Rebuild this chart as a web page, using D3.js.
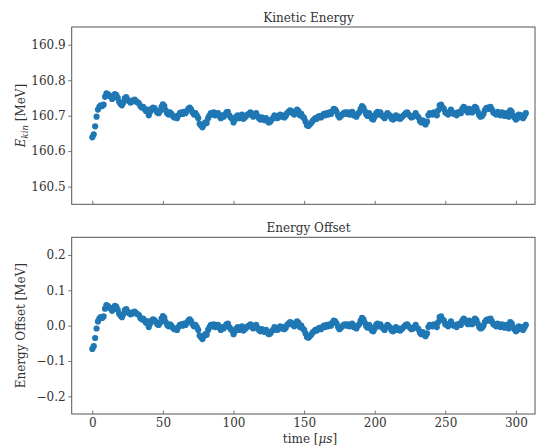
<!DOCTYPE html>
<html><head><meta charset="utf-8">
<script src="https://cdn.jsdelivr.net/npm/d3@7"></script>
<style>body{margin:0;background:#fff}svg{display:block}</style>
</head><body><svg id="c" width="537" height="447"></svg>
<script>
const timeUs = [0,1,2,3,4,5,6,7,8,9,10,11,12,13,14,15,16,17,18,19,20,21,22,23,24,25,26,27,28,29,30,31,32,33,34,35,36,37,38,39,40,41,42,43,44,45,46,47,48,49,50,51,52,53,54,55,56,57,58,59,60,61,62,63,64,65,66,67,68,69,70,71,72,73,74,75,76,77,78,79,80,81,82,83,84,85,86,87,88,89,90,91,92,93,94,95,96,97,98,99,100,101,102,103,104,105,106,107,108,109,110,111,112,113,114,115,116,117,118,119,120,121,122,123,124,125,126,127,128,129,130,131,132,133,134,135,136,137,138,139,140,141,142,143,144,145,146,147,148,149,150,151,152,153,154,155,156,157,158,159,160,161,162,163,164,165,166,167,168,169,170,171,172,173,174,175,176,177,178,179,180,181,182,183,184,185,186,187,188,189,190,191,192,193,194,195,196,197,198,199,200,201,202,203,204,205,206,207,208,209,210,211,212,213,214,215,216,217,218,219,220,221,222,223,224,225,226,227,228,229,230,231,232,233,234,235,236,237,238,239,240,241,242,243,244,245,246,247,248,249,250,251,252,253,254,255,256,257,258,259,260,261,262,263,264,265,266,267,268,269,270,271,272,273,274,275,276,277,278,279,280,281,282,283,284,285,286,287,288,289,290,291,292,293,294,295,296,297,298,299,300,301,302,303,304,305,306,307];

const kineticEnergy = [
160.639,160.647,160.670,160.697,160.717,160.725,160.729,160.727,160.731,160.753,
160.763,160.760,160.757,160.753,160.747,160.755,160.761,160.758,160.750,160.739,
160.733,160.729,160.737,160.749,160.752,160.745,160.741,160.737,160.739,160.743,
160.745,160.740,160.738,160.735,160.727,160.723,160.725,160.719,160.713,160.717,
160.701,160.711,160.719,160.723,160.721,160.715,160.709,160.707,160.713,160.725,
160.732,160.727,160.715,160.707,160.703,160.709,160.705,160.699,160.695,160.697,
160.693,160.701,160.707,160.709,160.705,160.711,160.707,160.713,160.719,160.723,
160.717,160.709,160.703,160.707,160.701,160.693,160.677,160.672,160.667,160.675,
160.681,160.679,160.693,160.701,160.707,160.703,160.709,160.701,160.705,160.707,
160.699,160.693,160.701,160.697,160.703,160.709,160.711,160.701,160.695,160.691,
160.681,160.689,160.697,160.701,160.693,160.699,160.703,160.691,160.695,160.699,
160.703,160.705,160.709,160.701,160.697,160.703,160.707,160.699,160.693,160.689,
160.695,160.691,160.687,160.693,160.685,160.681,160.683,160.689,160.693,160.701,
160.697,160.693,160.699,160.703,160.697,160.701,160.695,160.699,160.707,160.711,
160.715,160.713,160.707,160.703,160.709,160.717,160.713,160.701,160.705,160.697,
160.693,160.683,160.673,160.671,160.675,160.679,160.685,160.689,160.693,160.691,
160.697,160.699,160.695,160.701,160.705,160.701,160.707,160.703,160.709,160.705,
160.713,160.719,160.717,160.711,160.701,160.695,160.699,160.703,160.707,160.709,
160.705,160.709,160.703,160.707,160.711,160.701,160.703,160.697,160.705,160.709,
160.719,160.727,160.723,160.713,160.703,160.699,160.707,160.701,160.691,160.689,
160.697,160.707,160.711,160.703,160.709,160.701,160.697,160.693,160.701,160.707,
160.703,160.699,160.691,160.689,160.695,160.701,160.693,160.697,160.691,160.695,
160.699,160.703,160.707,160.709,160.703,160.699,160.695,160.697,160.701,160.707,
160.699,160.695,160.685,160.681,160.687,160.679,160.675,160.683,160.701,160.707,
160.705,160.703,160.709,160.707,160.701,160.715,160.729,160.731,160.723,160.719,
160.709,160.707,160.703,160.711,160.717,160.709,160.705,160.707,160.701,160.709,
160.711,160.707,160.719,160.725,160.721,160.713,160.709,160.719,160.715,160.709,
160.717,160.725,160.721,160.711,160.701,160.697,160.699,160.705,160.715,160.721,
160.723,160.719,160.725,160.717,160.709,160.707,160.703,160.711,160.707,160.701,
160.709,160.705,160.699,160.707,160.703,160.697,160.715,160.711,160.701,160.695,
160.689,160.693,160.703,160.697,160.701,160.693,160.699,160.707];

const energyOffset = [
-0.066,-0.058,-0.035,-0.008,0.012,0.020,0.024,0.022,0.026,0.048,
0.058,0.055,0.052,0.048,0.042,0.050,0.056,0.053,0.045,0.034,
0.028,0.024,0.032,0.044,0.047,0.040,0.036,0.032,0.034,0.038,
0.040,0.035,0.033,0.030,0.022,0.018,0.020,0.014,0.008,0.012,
-0.004,0.006,0.014,0.018,0.016,0.010,0.004,0.002,0.008,0.020,
0.027,0.022,0.010,0.002,-0.002,0.004,0.000,-0.006,-0.010,-0.008,
-0.012,-0.004,0.002,0.004,0.000,0.006,0.002,0.008,0.014,0.018,
0.012,0.004,-0.002,0.002,-0.004,-0.012,-0.028,-0.033,-0.038,-0.030,
-0.024,-0.026,-0.012,-0.004,0.002,-0.002,0.004,-0.004,0.000,0.002,
-0.006,-0.012,-0.004,-0.008,-0.002,0.004,0.006,-0.004,-0.010,-0.014,
-0.024,-0.016,-0.008,-0.004,-0.012,-0.006,-0.002,-0.014,-0.010,-0.006,
-0.002,0.000,0.004,-0.004,-0.008,-0.002,0.002,-0.006,-0.012,-0.016,
-0.010,-0.014,-0.018,-0.012,-0.020,-0.024,-0.022,-0.016,-0.012,-0.004,
-0.008,-0.012,-0.006,-0.002,-0.008,-0.004,-0.010,-0.006,0.002,0.006,
0.010,0.008,0.002,-0.002,0.004,0.012,0.008,-0.004,0.000,-0.008,
-0.012,-0.022,-0.032,-0.034,-0.030,-0.026,-0.020,-0.016,-0.012,-0.014,
-0.008,-0.006,-0.010,-0.004,0.000,-0.004,0.002,-0.002,0.004,0.000,
0.008,0.014,0.012,0.006,-0.004,-0.010,-0.006,-0.002,0.002,0.004,
0.000,0.004,-0.002,0.002,0.006,-0.004,-0.002,-0.008,0.000,0.004,
0.014,0.022,0.018,0.008,-0.002,-0.006,0.002,-0.004,-0.014,-0.016,
-0.008,0.002,0.006,-0.002,0.004,-0.004,-0.008,-0.012,-0.004,0.002,
-0.002,-0.006,-0.014,-0.016,-0.010,-0.004,-0.012,-0.008,-0.014,-0.010,
-0.006,-0.002,0.002,0.004,-0.002,-0.006,-0.010,-0.008,-0.004,0.002,
-0.006,-0.010,-0.020,-0.024,-0.018,-0.026,-0.030,-0.022,-0.004,0.002,
0.000,-0.002,0.004,0.002,-0.004,0.010,0.024,0.026,0.018,0.014,
0.004,0.002,-0.002,0.006,0.012,0.004,0.000,0.002,-0.004,0.004,
0.006,0.002,0.014,0.020,0.016,0.008,0.004,0.014,0.010,0.004,
0.012,0.020,0.016,0.006,-0.004,-0.008,-0.006,0.000,0.010,0.016,
0.018,0.014,0.020,0.012,0.004,0.002,-0.002,0.006,0.002,-0.004,
0.004,0.000,-0.006,0.002,-0.002,-0.008,0.010,0.006,-0.004,-0.010,
-0.016,-0.012,-0.002,-0.008,-0.004,-0.012,-0.006,0.002];

const timeTicks = [0,50,100,150,200,250,300];
const kinTicks = [160.5,160.6,160.7,160.8,160.9];
const offTicks = [-0.2,-0.1,0.0,0.1,0.2];
const kinDomain = [160.45,160.95];
const offDomain = [-0.25,0.25];
const timeDomain = [-14.6,313.5];

const FONT = "'DejaVu Serif', serif";
const TXT = "#333";
const DOT = "#1f77b4";
const svg = d3.select("#c");
svg.append("rect").attr("width",537).attr("height",447).attr("fill","#fff");

const L = 71.7, R = 535;
const x = d3.scaleLinear().domain(timeDomain).range([L, R]);

function panel(top, bottom, yDomain, yTicks, values, title, showXLabels){
  const y = d3.scaleLinear().domain(yDomain).range([bottom, top]);
  const g = svg.append("g");
  // points
  g.append("g").selectAll("circle").data(values).join("circle")
    .attr("cx",(d,i)=>x(timeUs[i])).attr("cy",d=>y(d)).attr("r",3.1)
    .attr("fill",DOT);
  // y axis
  const ya = g.append("g").attr("transform",`translate(${L},0)`)
    .call(d3.axisLeft(y).tickValues(yTicks).tickSize(3.5).tickPadding(2.6).tickFormat(d3.format(".1f")));
  // x axis
  const xa = g.append("g").attr("transform",`translate(0,${bottom})`)
    .call(d3.axisBottom(x).tickValues(timeTicks).tickSize(-3.5).tickPadding(4.5)
      .tickFormat(showXLabels ? d3.format("d") : ""));
  [ya,xa].forEach(a=>{
    a.select(".domain").remove();
    a.selectAll("line").attr("stroke","#555").attr("stroke-width",0.8);
    a.selectAll("text").attr("font-family",FONT).attr("font-size",12).attr("fill",TXT);
  });
  // frame
  g.append("rect").attr("x",L).attr("y",top).attr("width",R-L).attr("height",bottom-top)
    .attr("fill","none").attr("stroke","#555").attr("stroke-width",1);
  // title
  g.append("text").attr("x",308.5).attr("y",top-5.5).attr("text-anchor","middle")
    .attr("font-family",FONT).attr("font-size",12).attr("fill",TXT).text(title);
  return y;
}

panel(27, 204.3, kinDomain, kinTicks, kineticEnergy, "Kinetic Energy", false);
panel(237.3, 414, offDomain, offTicks, energyOffset, "Energy Offset", true);

// y labels
const yl1 = svg.append("text").attr("transform","translate(25,115.5) rotate(-90)")
  .attr("text-anchor","middle").attr("font-family",FONT).attr("font-size",12).attr("fill",TXT);
yl1.append("tspan").attr("font-style","italic").text("E");
yl1.append("tspan").attr("font-style","italic").attr("font-size",8.5).attr("dy",3).text("kin");
yl1.append("tspan").attr("dy",-3).text(" [MeV]");

svg.append("text").attr("transform","translate(25,325.6) rotate(-90)")
  .attr("text-anchor","middle").attr("font-family",FONT).attr("font-size",12).attr("fill",TXT)
  .text("Energy Offset [MeV]");

// x label
const xl = svg.append("text").attr("x",310).attr("y",442.5).attr("text-anchor","middle")
  .attr("font-family",FONT).attr("font-size",12).attr("fill",TXT);
xl.append("tspan").text("time [");
xl.append("tspan").attr("font-style","italic").text("μs");
xl.append("tspan").text("]");
</script></body></html>
